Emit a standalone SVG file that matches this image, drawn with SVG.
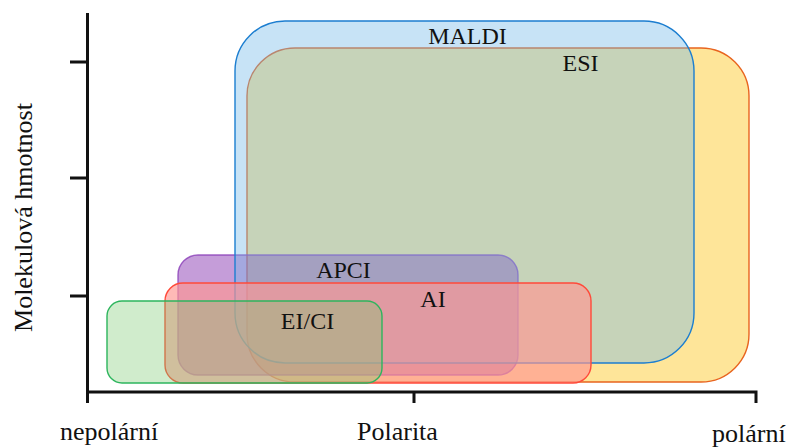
<svg xmlns="http://www.w3.org/2000/svg" width="792" height="448" viewBox="0 0 792 448">
<style>
.lbl{font-family:"Liberation Serif","Times New Roman",serif;font-size:24px;fill:#111;text-anchor:middle}
.ax{font-family:"Liberation Serif","Times New Roman",serif;font-size:26px;fill:#111}
.axis{stroke:#111;stroke-width:3;fill:none}
.box{stroke-width:1.4}
</style>
<rect width="792" height="448" fill="#fff"/>
<g id="ESI">
<rect class="box" x="247" y="48" width="502" height="334" rx="48" ry="48" fill="#FEE599" stroke="#E8641E"/>
</g>
<g id="APCI">
<rect class="box" x="178" y="255" width="340" height="120" rx="20" ry="20" fill="rgb(140,60,180)" fill-opacity="0.5" stroke="#8A3DB8" stroke-opacity="0.8"/>
</g>
<g id="MALDI">
<rect class="box" x="235" y="21" width="459" height="342" rx="50" ry="50" fill="rgb(116,184,232)" fill-opacity="0.4" stroke="#1C7ED0"/>
</g>
<g id="AI">
<rect class="box" x="165" y="283" width="426" height="100" rx="18" ry="18" fill="rgb(255,150,145)" fill-opacity="0.66" stroke="#FF4A3A"/>
</g>
<g id="EICI">
<rect class="box" x="107" y="301" width="275" height="82" rx="15" ry="15" fill="rgb(120,200,110)" fill-opacity="0.35" stroke="#2DB55D"/>
</g>
<g id="labels">
<text class="lbl" x="467.5" y="44">MALDI</text>
<text class="lbl" x="580.5" y="71">ESI</text>
<text class="lbl" x="343.5" y="278">APCI</text>
<text class="lbl" x="433" y="307">AI</text>
<text class="lbl" x="307.5" y="329">EI/CI</text>
</g>
<g id="axes">
<path class="axis" d="M87.5 13 V403 M70 62 H87.5 M70 178 H87.5 M70 296 H87.5"/>
<path class="axis" d="M86 392 H756 V403 M414 392 V403"/>
</g>
<g id="axis-labels">
<text class="ax" x="60" y="440">nepolární</text>
<text class="ax" x="357" y="440">Polarita</text>
<text class="ax" x="712" y="441.5">polární</text>
<text class="ax" text-anchor="middle" transform="translate(32 217.5) rotate(-90)">Molekulová hmotnost</text>
</g>
</svg>
